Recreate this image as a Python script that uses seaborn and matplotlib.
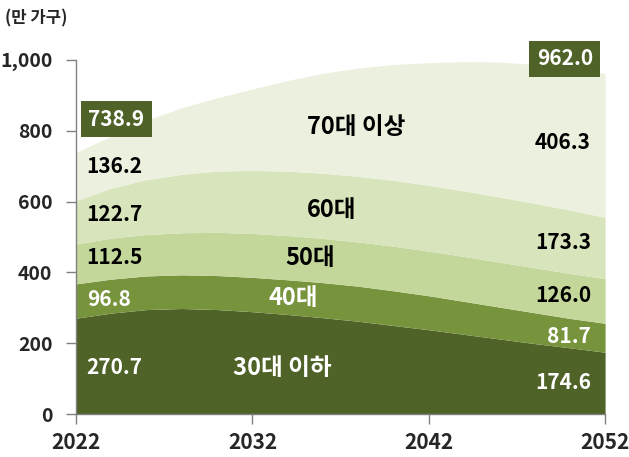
import numpy as np
import pandas as pd
import matplotlib.pyplot as plt
import seaborn as sns

years = [2022, 2024, 2026, 2028, 2030, 2032, 2034, 2036, 2038, 2040, 2042, 2044, 2046, 2048, 2050, 2052]
age_30 = [270.7, 285, 295, 298, 295, 289, 281, 272, 262, 250, 238, 225, 212, 199, 187, 174.6]
age_40 = [96.8, 96, 95, 95, 96, 97, 98, 99, 99, 98, 96, 93, 90, 87, 83, 81.7]
age_50 = [112.5, 116, 117, 119, 122, 124, 125, 125, 125, 126, 126, 127, 127, 127, 127, 126.0]
age_60 = [122.7, 141, 155, 165, 173, 178, 182, 184, 185, 186, 186, 185, 184, 182, 179, 173.3]
age_70 = [136.2, 147, 168, 188, 207, 230, 256, 282, 306, 327, 346, 365, 381, 392, 400, 406.3]
groups = ["30대 이하", "40대", "50대", "60대", "70대 이상"]
totals = [738.9, 962.0]

df = pd.DataFrame({"year": years, groups[0]: age_30, groups[1]: age_40,
                   groups[2]: age_50, groups[3]: age_60, groups[4]: age_70})

sns.set_theme(style="white")
plt.rcParams['font.family'] = ['Noto Sans CJK KR', 'DejaVu Sans']
plt.rcParams['font.weight'] = 'bold'

colors = ["#4F6228", "#77933C", "#C4D79B", "#D8E4BC", "#EBF1DE"]

fig = plt.figure(figsize=(6.29, 4.57), dpi=100)
ax = fig.add_axes([0.121, 0.094, 0.841, 0.775])
ax.stackplot(df["year"], [df[g] for g in groups], colors=colors, linewidth=0)

ax.set_xlim(2022, 2052)
ax.set_ylim(0, 1000)
ax.set_xticks([2022, 2032, 2042, 2052])
ax.set_yticks(range(0, 1001, 200))
ax.set_yticklabels([f"{v:,}" for v in range(0, 1001, 200)], fontsize=14, fontweight='bold')
ax.set_xticklabels(["2022", "2032", "2042", "2052"], fontsize=15, fontweight='bold')
ax.tick_params(axis='both', length=7, width=1, color="#808080", direction='out',
               left=True, bottom=True)
ax.tick_params(axis='y', pad=10)
ax.tick_params(axis='x', pad=6)
sns.despine(ax=ax)
for s in ['left', 'bottom']:
    ax.spines[s].set_color("#808080")
    ax.spines[s].set_linewidth(1)

# value labels, left and right edges
cols = [age_30, age_40, age_50, age_60, age_70]
txt_col = ["white", "white", "black", "black", "black"]
left_y = [132, 322, 441, 562, 698]
right_y = [90, 218, 336, 483, 766]
for c, col, ly, ry in zip(cols, txt_col, left_y, right_y):
    ax.text(2022.6, ly, f"{c[0]:.1f}", color=col, fontsize=15, fontweight='bold',
            ha='left', va='center')
    ax.text(2051.2, ry, f"{c[-1]:.1f}", color=col, fontsize=15, fontweight='bold',
            ha='right', va='center')

box = dict(boxstyle="square,pad=0.35", fc="#4F6228", ec="none")
ax.text(2022.7, 833, f"{totals[0]:.1f}", color="white", fontsize=15, fontweight='bold',
        ha='left', va='center', bbox=box)
ax.text(2051.3, 1003, f"{totals[1]:.1f}", color="white", fontsize=15, fontweight='bold',
        ha='right', va='center', bbox=box, clip_on=False)

# group names
name_pos = [(2033.7, 130, "white"), (2034.3, 328, "white"), (2035.3, 441, "black"),
            (2036.5, 576, "black"), (2037.9, 811, "black")]
for g, (x, y, col) in zip(groups, name_pos):
    ax.text(x, y, g, color=col, fontsize=17, fontweight='bold', ha='center', va='center')

fig.text(0.008, 0.96, "(만 가구)", fontsize=12, fontweight='bold', ha='left', va='center')

fig.savefig("out.png", dpi=100)
